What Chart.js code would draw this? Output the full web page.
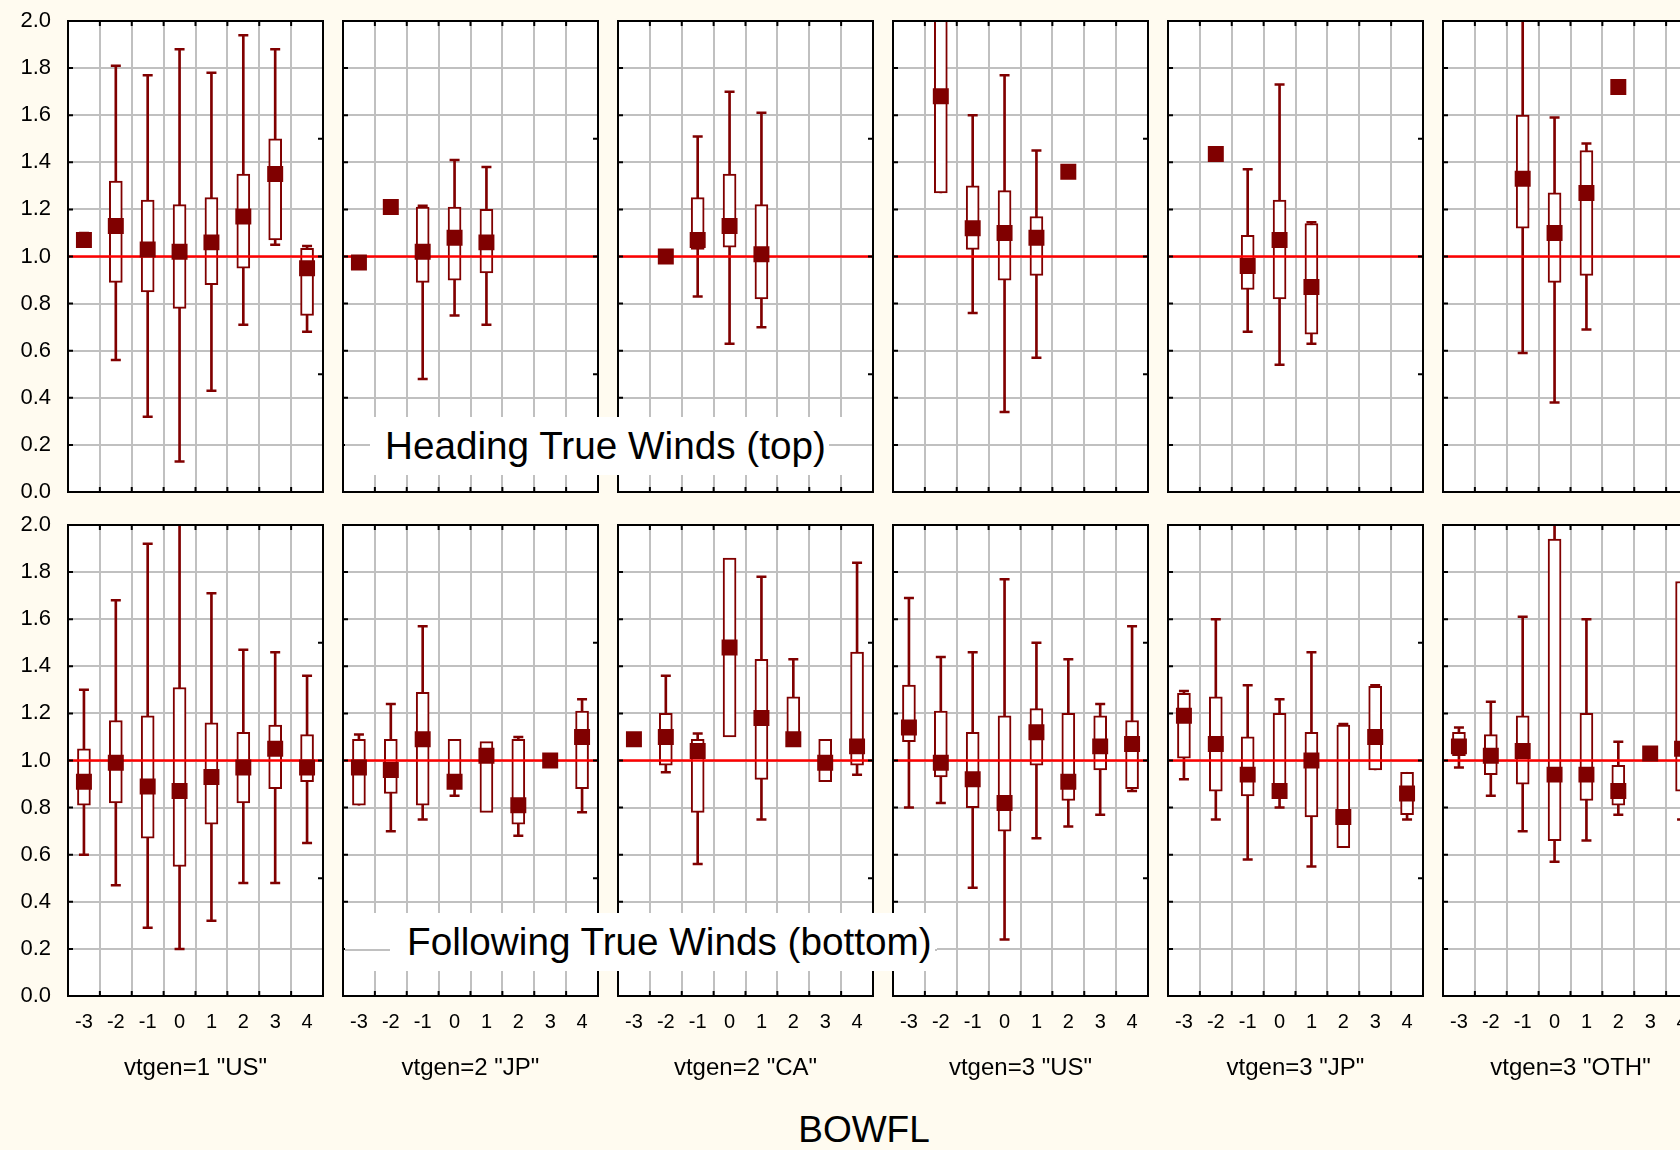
<!DOCTYPE html>
<html>
<head>
<meta charset="utf-8">
<title>BOWFL by vtgen</title>
<script src="https://cdn.jsdelivr.net/npm/chart.js@4.4.1/dist/chart.umd.min.js"></script>
<style>
  html, body { margin: 0; padding: 0; }
  body {
    width: 1680px; height: 1150px; overflow: hidden; position: relative;
    background: #fffbf0; font-family: "Liberation Sans", Arial, sans-serif; color: #000;
  }
  canvas { position: absolute; }
  .group { position: absolute; width: 255px; text-align: center; font-size: 24px; line-height: 24px; top: 1055px; white-space: nowrap; }
  .axis-title { position: absolute; left: 764px; width: 200px; text-align: center; top: 1111px; font-size: 37px; line-height: 37px; }
  .note { position: absolute; background: #fff; overflow: hidden; }
  .note .rule { position: absolute; left: 0; right: 0; height: 2px; background: #c0c0c0; }
  .note span { position: absolute; background: #fff; font-size: 38.7px; white-space: nowrap; }
</style>
</head>
<body>
<script>
// categories on every panel's x axis
const categories = ["-3", "-2", "-1", "0", "1", "2", "3", "4"];
const groups = ['vtgen=1 "US"', 'vtgen=2 "JP"', 'vtgen=2 "CA"', 'vtgen=3 "US"', 'vtgen=3 "JP"', 'vtgen=3 "OTH"'];
const yTicks = [0, 0.2, 0.4, 0.6, 0.8, 1.0, 1.2, 1.4, 1.6, 1.8, 2.0];
const rightTicks = [0.5, 1.0, 1.5];
const refValue = 1.0;

// one row per category: [min, q1, median, q3, max], null = no data
const headingUS1 = [
  [1.04, 1.04, 1.07, 1.09, 1.10],
  [0.56, 0.89, 1.13, 1.32, 1.81],
  [0.32, 0.85, 1.03, 1.24, 1.77],
  [0.13, 0.78, 1.02, 1.22, 1.88],
  [0.43, 0.88, 1.06, 1.25, 1.78],
  [0.71, 0.95, 1.17, 1.35, 1.94],
  [1.05, 1.07, 1.35, 1.50, 1.88],
  [0.68, 0.75, 0.95, 1.035, 1.045]
];
const headingJP2 = [
  [0.975, 0.975, 0.975, 0.975, 0.975],
  [1.21, 1.21, 1.21, 1.21, 1.21],
  [0.48, 0.89, 1.02, 1.21, 1.215],
  [0.75, 0.90, 1.08, 1.21, 1.41],
  [0.71, 0.93, 1.06, 1.20, 1.38],
  null, null, null
];
const headingCA2 = [
  null,
  [1.0, 1.0, 1.0, 1.0, 1.0],
  [0.83, 1.03, 1.07, 1.25, 1.51],
  [0.63, 1.04, 1.13, 1.35, 1.70],
  [0.70, 0.82, 1.01, 1.22, 1.61],
  null, null, null
];
const headingUS3 = [
  null,
  [1.27, 1.27, 1.68, 2.30, 2.50],
  [0.76, 1.03, 1.12, 1.30, 1.60],
  [0.34, 0.90, 1.10, 1.28, 1.77],
  [0.57, 0.92, 1.08, 1.17, 1.45],
  [1.36, 1.36, 1.36, 1.36, 1.36],
  null, null
];
const headingJP3 = [
  null,
  [1.435, 1.435, 1.435, 1.435, 1.435],
  [0.68, 0.86, 0.96, 1.09, 1.37],
  [0.54, 0.82, 1.07, 1.24, 1.73],
  [0.63, 0.67, 0.87, 1.14, 1.145],
  null, null, null
];
const headingOTH3 = [
  null, null,
  [0.59, 1.12, 1.33, 1.60, 2.40],
  [0.38, 0.89, 1.10, 1.27, 1.59],
  [0.69, 0.92, 1.27, 1.45, 1.48],
  [1.72, 1.72, 1.72, 1.72, 1.72],
  null, null
];

const followingUS1 = [
  [0.60, 0.81, 0.91, 1.05, 1.30],
  [0.47, 0.82, 0.99, 1.17, 1.68],
  [0.29, 0.67, 0.89, 1.19, 1.92],
  [0.20, 0.55, 0.87, 1.31, 2.30],
  [0.32, 0.73, 0.93, 1.16, 1.71],
  [0.48, 0.82, 0.97, 1.12, 1.47],
  [0.48, 0.88, 1.05, 1.15, 1.46],
  [0.65, 0.91, 0.97, 1.11, 1.36]
];
const followingJP2 = [
  [0.81, 0.81, 0.97, 1.09, 1.11],
  [0.70, 0.86, 0.96, 1.09, 1.24],
  [0.75, 0.81, 1.09, 1.29, 1.57],
  [0.85, 0.88, 0.91, 1.09, 1.09],
  [0.78, 0.78, 1.02, 1.08, 1.08],
  [0.68, 0.73, 0.81, 1.09, 1.10],
  [1.0, 1.0, 1.0, 1.0, 1.0],
  [0.78, 0.88, 1.10, 1.21, 1.26]
];
const followingCA2 = [
  [1.09, 1.09, 1.09, 1.09, 1.09],
  [0.95, 0.98, 1.10, 1.20, 1.36],
  [0.56, 0.78, 1.04, 1.09, 1.115],
  [1.10, 1.10, 1.48, 1.86, 1.86],
  [0.75, 0.92, 1.18, 1.43, 1.78],
  [1.06, 1.06, 1.09, 1.27, 1.43],
  [0.91, 0.91, 0.99, 1.09, 1.09],
  [0.94, 0.98, 1.06, 1.46, 1.84]
];
const followingUS3 = [
  [0.80, 1.08, 1.14, 1.32, 1.69],
  [0.82, 0.93, 0.99, 1.21, 1.44],
  [0.46, 0.80, 0.92, 1.12, 1.46],
  [0.24, 0.70, 0.82, 1.19, 1.77],
  [0.67, 0.98, 1.12, 1.22, 1.50],
  [0.72, 0.83, 0.91, 1.20, 1.43],
  [0.77, 0.96, 1.06, 1.19, 1.24],
  [0.87, 0.88, 1.07, 1.17, 1.57]
];
const followingJP3 = [
  [0.92, 1.01, 1.19, 1.285, 1.295],
  [0.75, 0.87, 1.07, 1.27, 1.60],
  [0.58, 0.85, 0.94, 1.10, 1.32],
  [0.80, 0.84, 0.87, 1.20, 1.26],
  [0.55, 0.76, 1.00, 1.12, 1.46],
  [0.63, 0.63, 0.76, 1.15, 1.155],
  [0.96, 0.96, 1.10, 1.315, 1.32],
  [0.75, 0.77, 0.86, 0.95, 0.95]
];
const followingOTH3 = [
  [0.97, 1.02, 1.06, 1.12, 1.14],
  [0.85, 0.94, 1.02, 1.11, 1.25],
  [0.70, 0.90, 1.04, 1.19, 1.61],
  [0.57, 0.66, 0.94, 1.94, 2.30],
  [0.66, 0.83, 0.94, 1.20, 1.60],
  [0.77, 0.81, 0.87, 0.98, 1.08],
  [1.03, 1.03, 1.03, 1.03, 1.03],
  [0.75, 0.87, 1.05, 1.76, 1.76]
];

const topRow = [headingUS1, headingJP2, headingCA2, headingUS3, headingJP3, headingOTH3];
const bottomRow = [followingUS1, followingJP2, followingCA2, followingUS3, followingJP3, followingOTH3];

const MAROON = "#800000";
const GRID = "#c0c0c0";
const PLOT_W = 255, PLOT_H = 471, PAD = 34;
const Y_AXIS_W = 60, X_AXIS_H = 45;
const rowTops = [21, 525];
const colLeft = c => 68 + 275 * c;

Chart.defaults.font.family = '"Liberation Sans", Arial, sans-serif';
Chart.defaults.color = "#000";

// white plot area, red reference line over the boxes, black frame with inward ticks
const panelPlugin = {
  id: "panel",
  beforeDraw(chart) {
    const { ctx, chartArea: a } = chart;
    ctx.save();
    ctx.fillStyle = "#fff";
    ctx.fillRect(a.left, a.top, a.width, a.height);
    ctx.restore();
  },
  afterDatasetDraw(chart, args) {
    if (args.index !== 1) return;
    const { ctx, chartArea: a } = chart;
    const y = chart.scales.y.getPixelForValue(refValue);
    ctx.save();
    ctx.strokeStyle = "#ff0000";
    ctx.lineWidth = 2.5;
    ctx.beginPath();
    ctx.moveTo(a.left, y);
    ctx.lineTo(a.right, y);
    ctx.stroke();
    ctx.restore();
  },
  afterDraw(chart) {
    const { ctx, chartArea: a } = chart;
    const xs = chart.scales.x, ys = chart.scales.y;
    const len = 5;
    ctx.save();
    ctx.strokeStyle = "#000";
    ctx.lineWidth = 2;
    ctx.beginPath();
    yTicks.forEach(v => {
      const y = ys.getPixelForValue(v);
      ctx.moveTo(a.left, y); ctx.lineTo(a.left + len, y);
    });
    rightTicks.forEach(v => {
      const y = ys.getPixelForValue(v);
      ctx.moveTo(a.right - len, y); ctx.lineTo(a.right, y);
    });
    for (let k = 1; k < categories.length; k++) {
      const x = (xs.getPixelForValue(k - 1) + xs.getPixelForValue(k)) / 2;
      ctx.moveTo(x, a.top); ctx.lineTo(x, a.top + len);
      ctx.moveTo(x, a.bottom); ctx.lineTo(x, a.bottom - len);
    }
    ctx.stroke();
    ctx.strokeRect(a.left, a.top, a.width, a.height);
    ctx.restore();
  }
};

function boxDatasets(rows) {
  const whisker = rows.map(r => r && (r[0] < r[1] || r[4] > r[3]) ? [r[0], r[4]] : null);
  const box = rows.map(r => r && r[3] > r[1] ? [r[1], r[3]] : null);
  const capHigh = rows.map(r => r && r[4] > r[3] ? r[4] : null);
  const capLow = rows.map(r => r && r[0] < r[1] ? r[0] : null);
  const median = rows.map(r => r ? r[2] : null);
  const cap = data => ({
    type: "line", data, showLine: false, order: 2,
    pointStyle: "line", pointRadius: 5, pointBorderWidth: 2.5,
    pointBorderColor: MAROON, borderColor: MAROON
  });
  return [
    { type: "bar", data: whisker, backgroundColor: MAROON, borderWidth: 0,
      barThickness: 2, grouped: false, order: 4 },
    { type: "bar", data: box, backgroundColor: "#fff", borderColor: MAROON, borderWidth: 2,
      borderSkipped: false, barThickness: 13, grouped: false, order: 3 },
    cap(capHigh),
    cap(capLow),
    { type: "line", data: median, showLine: false, order: 1,
      pointStyle: "rect", pointRadius: 11.3, pointBorderWidth: 0,
      pointBackgroundColor: MAROON, borderColor: MAROON }
  ];
}

function drawPanel(rows, row, col) {
  const showY = col === 0, showX = row === 1;
  const axisW = showY ? Y_AXIS_W : 0;
  const axisH = showX ? X_AXIS_H : 0;
  const canvas = document.createElement("canvas");
  canvas.width = axisW + PLOT_W + 2 * PAD;
  canvas.height = axisH + PLOT_H + 2 * PAD;
  canvas.style.left = (colLeft(col) - PAD - axisW) + "px";
  canvas.style.top = (rowTops[row] - PAD) + "px";
  document.body.appendChild(canvas);

  new Chart(canvas, {
    type: "bar",
    data: { labels: categories, datasets: boxDatasets(rows) },
    options: {
      responsive: false,
      animation: false,
      layout: { padding: PAD, autoPadding: false },
      plugins: { legend: { display: false }, tooltip: { enabled: false } },
      scales: {
        x: {
          type: "category",
          offset: true,
          grid: { offset: true, color: GRID, lineWidth: 2, drawTicks: false },
          border: { display: false },
          ticks: { display: showX, autoSkip: false, maxRotation: 0, padding: 14, font: { size: 20 } },
          afterFit: s => { s.height = axisH; }
        },
        y: {
          min: 0, max: 2,
          afterBuildTicks: s => { s.ticks = yTicks.map(v => ({ value: v })); },
          grid: { color: GRID, lineWidth: 2, drawTicks: false },
          border: { display: false },
          ticks: { display: showY, padding: 17, font: { size: 22 }, callback: v => v.toFixed(1) },
          afterFit: s => { s.width = axisW; }
        }
      }
    },
    plugins: [panelPlugin]
  });
}

topRow.forEach((rows, c) => drawPanel(rows, 0, c));
bottomRow.forEach((rows, c) => drawPanel(rows, 1, c));

groups.forEach((g, c) => {
  const d = document.createElement("div");
  d.className = "group";
  d.style.left = colLeft(c) + "px";
  d.textContent = g;
  document.body.appendChild(d);
});

// captions laid over the grid with a white backing
function note(text, left, top, width, height, ruleY, textLeft, padLeft) {
  const d = document.createElement("div");
  d.className = "note";
  Object.assign(d.style, { left: left + "px", top: top + "px", width: width + "px", height: height + "px" });
  const rule = document.createElement("div");
  rule.className = "rule";
  rule.style.top = (ruleY - 1) + "px";
  const s = document.createElement("span");
  s.textContent = text;
  Object.assign(s.style, { left: textLeft + "px", top: "0px", lineHeight: height + "px", paddingLeft: padLeft + "px", paddingRight: "3px" });
  d.appendChild(rule);
  d.appendChild(s);
  document.body.appendChild(d);
}
note("Heading True Winds (top)", 345, 417, 527, 58, 28, 25, 15);
note("Following True Winds (bottom)", 345, 913, 592, 58, 37, 45, 17);

const title = document.createElement("div");
title.className = "axis-title";
title.textContent = "BOWFL";
document.body.appendChild(title);
</script>
</body>
</html>
